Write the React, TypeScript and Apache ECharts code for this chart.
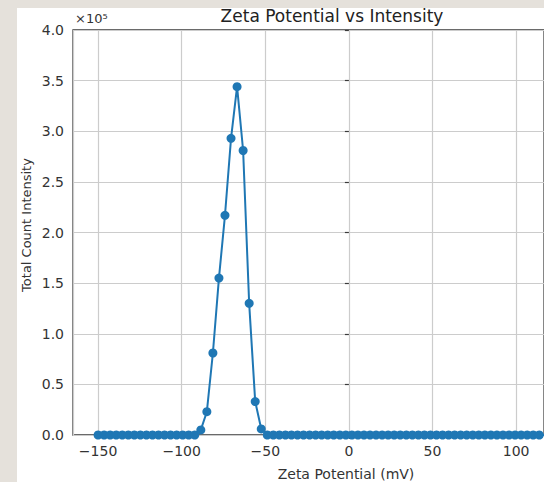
import React, { useEffect, useRef } from "react";
import * as echarts from "echarts";

// Zeta potential (mV) sample positions
const zetaPotential = [
  -150.0, -146.39, -142.77, -139.16, -135.54, -131.93, -128.31, -124.7, -121.08, -117.47,
  -113.86, -110.24, -106.63, -103.01, -99.4, -95.78, -92.17, -88.55, -84.94, -81.33,
  -77.71, -74.1, -70.48, -66.87, -63.25, -59.64, -56.02, -52.41, -48.8, -45.18,
  -41.57, -37.95, -34.34, -30.72, -27.11, -23.49, -19.88, -16.27, -12.65, -9.04,
  -5.42, -1.81, 1.81, 5.42, 9.04, 12.65, 16.27, 19.88, 23.49, 27.11,
  30.72, 34.34, 37.95, 41.57, 45.18, 48.8, 52.41, 56.02, 59.64, 63.25,
  66.87, 70.48, 74.1, 77.71, 81.33, 84.94, 88.55, 92.17, 95.78, 99.4,
  103.01, 106.63, 110.24, 113.86, 117.47, 121.08, 124.7, 128.31, 131.93, 135.54,
  139.16, 142.77, 146.39, 150.0,
];

// Total count intensity
const intensity = [
  0, 0, 0, 0, 0, 0, 0, 0, 0, 0,
  0, 0, 0, 0, 0, 0, 0, 5000, 23000, 81000,
  155000, 217000, 293000, 344000, 281000, 130000, 33000, 6000, 0, 0,
  0, 0, 0, 0, 0, 0, 0, 0, 0, 0,
  0, 0, 0, 0, 0, 0, 0, 0, 0, 0,
  0, 0, 0, 0, 0, 0, 0, 0, 0, 0,
  0, 0, 0, 0, 0, 0, 0, 0, 0, 0,
  0, 0, 0, 0, 0, 0, 0, 0, 0, 0,
  0, 0, 0, 0,
];

const xTickValues = [-150, -100, -50, 0, 50, 100];

const titleText = "Zeta Potential vs Intensity";
const xAxisTitle = "Zeta Potential (mV)";
const yAxisTitle = "Total Count Intensity";
const yScaleText = "×10⁵";

const FONT = "DejaVu Sans";

export default function App() {
  const ref = useRef<HTMLDivElement>(null);

  useEffect(() => {
    if (!ref.current) return;
    const chart = echarts.init(ref.current, undefined, { renderer: "svg" });
    const data = zetaPotential.map((x, i) => [x, intensity[i]]);
    chart.setOption({
      animation: false,
      backgroundColor: "#ffffff",
      textStyle: { fontFamily: FONT },
      grid: {
        left: 73,
        right: 0,
        top: 30,
        bottom: 47,
        show: true,
        borderColor: "#3a3a3a",
        borderWidth: 1.3,
        backgroundColor: "transparent",
      },
      xAxis: {
        type: "value",
        min: -165,
        max: 116.7,
        splitNumber: 5,
        axisLine: { show: false },
        axisTick: { show: true, inside: false, length: 4, lineStyle: { color: "#3a3a3a", width: 1.2 } },
        axisLabel: {
          margin: 9,
          fontFamily: FONT,
          fontSize: 14,
          color: "#333333",
          showMinLabel: false,
          showMaxLabel: false,
          formatter: (v: number) =>
            xTickValues.includes(Math.round(v)) && Math.abs(v - Math.round(v)) < 1e-6
              ? String(Math.round(v)).replace("-", "−")
              : "",
        },
        splitLine: { show: true, lineStyle: { color: "#cccccc", width: 1.2 } },
      },
      yAxis: {
        type: "value",
        min: 0,
        max: 400000,
        interval: 50000,
        axisLine: { show: false },
        axisTick: { show: true, inside: false, length: 4, lineStyle: { color: "#3a3a3a", width: 1.2 } },
        axisLabel: {
          margin: 9,
          fontFamily: FONT,
          fontSize: 14,
          color: "#333333",
          formatter: (v: number) => (v / 100000).toFixed(1),
        },
        splitLine: { show: true, lineStyle: { color: "#cccccc", width: 1.2 } },
      },
      graphic: [
        { type: "rect", silent: true, shape: { x: 0, y: 0, width: 17, height: 482 }, style: { fill: "#e5e1db" } },
        { type: "rect", silent: true, shape: { x: 0, y: 0, width: 544, height: 8 }, style: { fill: "#e5e1db" } },
        {
          type: "text",
          x: 332,
          y: 16,
          style: {
            text: titleText,
            fontFamily: FONT,
            fontSize: 17,
            fill: "#222222",
            textAlign: "center",
            textVerticalAlign: "middle",
          },
        },
        {
          type: "text",
          x: 75,
          y: 18,
          style: {
            text: yScaleText,
            fontFamily: FONT,
            fontSize: 13,
            fill: "#333333",
            textAlign: "left",
            textVerticalAlign: "middle",
          },
        },
        {
          type: "text",
          x: 346,
          y: 474,
          style: {
            text: xAxisTitle,
            fontFamily: FONT,
            fontSize: 14,
            fill: "#333333",
            textAlign: "center",
            textVerticalAlign: "middle",
          },
        },
        {
          type: "text",
          x: 26,
          y: 225,
          rotation: Math.PI / 2,
          style: {
            text: yAxisTitle,
            fontFamily: FONT,
            fontSize: 13,
            fill: "#333333",
            textAlign: "center",
            textVerticalAlign: "middle",
          },
        },
      ],
      series: [
        {
          type: "line",
          data,
          symbol: "circle",
          symbolSize: 9,
          showAllSymbol: true,
          clip: true,
          itemStyle: { color: "#1f77b4" },
          lineStyle: { color: "#1f77b4", width: 2 },
          z: 3,
        },
      ],
    });
    return () => chart.dispose();
  }, []);

  return (
    <div
      ref={ref}
      style={{ position: "fixed", left: 0, top: 0, width: 544, height: 482 }}
    />
  );
}
